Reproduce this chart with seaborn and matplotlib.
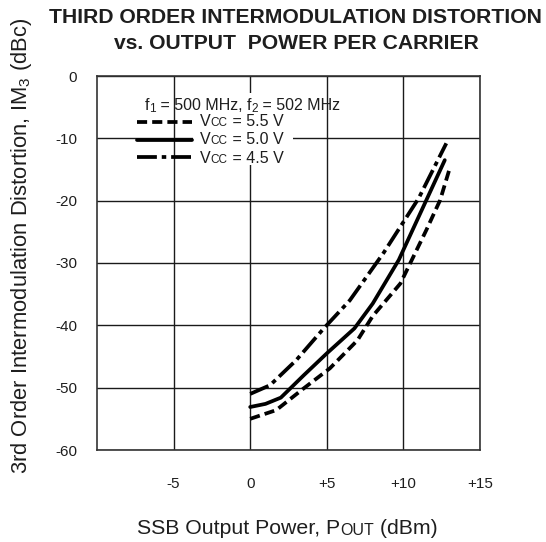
import numpy as np
import pandas as pd
import matplotlib
matplotlib.use("Agg")
import matplotlib.pyplot as plt
from matplotlib.patches import Rectangle
import seaborn as sns

# ---- data ----
x_55 = [0.0, 1.7, 3.5, 5.2, 7.0, 8.0, 9.8, 11.5, 12.4, 13.0]
y_55 = [-55.0, -53.6, -50.1, -46.9, -42.4, -38.5, -33.3, -24.7, -19.9, -15.0]
x_50 = [0.0, 1.0, 2.0, 3.5, 5.0, 6.8, 8.0, 9.7, 11.5, 12.7]
y_50 = [-53.1, -52.6, -51.6, -48.0, -44.5, -40.5, -36.5, -29.5, -19.9, -13.5]
x_45 = [0.0, 1.3, 3.0, 4.8, 6.5, 8.7, 11.0, 12.8]
y_45 = [-51.0, -49.6, -45.6, -40.5, -36.0, -28.4, -19.6, -10.8]
series_names = ["5.5 V", "5.0 V", "4.5 V"]
x_ticks = [-5, 0, 5, 10, 15]
x_ticklabels = ["-5", "0", "+5", "+10", "+15"]
y_ticks = [-60, -50, -40, -30, -20, -10, 0]
y_ticklabels = ["-60", "-50", "-40", "-30", "-20", "-10", "0"]

df = pd.concat([
    pd.DataFrame({"pout": x_55, "im3": y_55, "vcc": series_names[0]}),
    pd.DataFrame({"pout": x_50, "im3": y_50, "vcc": series_names[1]}),
    pd.DataFrame({"pout": x_45, "im3": y_45, "vcc": series_names[2]}),
])

sns.set_theme(style="white")
plt.rcParams["font.family"] = ["Liberation Sans", "DejaVu Sans"]
plt.rcParams["mathtext.fontset"] = "custom"
plt.rcParams["mathtext.rm"] = "Liberation Sans"
plt.rcParams["mathtext.it"] = "Liberation Sans:italic"
plt.rcParams["mathtext.bf"] = "Liberation Sans:bold"

TXT = "#1e1e1e"
LW = 2.7
dash_styles = {"5.5 V": (2.7, 1.35), "5.0 V": "", "4.5 V": (5.3, 1.3, 1.2, 1.3)}

fig = plt.figure(figsize=(5.46, 5.42), dpi=100)
ax = fig.add_axes([97 / 546, 1 - 450 / 542, 383 / 546, 374 / 542])

sns.lineplot(data=df, x="pout", y="im3", style="vcc", dashes=dash_styles,
             color="black", linewidth=LW, legend=False, ax=ax, zorder=3,
             estimator=None, sort=False)

ax.set_xlim(-10, 15)
ax.set_ylim(-60, 0)
ax.set_xticks(x_ticks)
ax.set_xticklabels(x_ticklabels)
ax.set_yticks(y_ticks)
ax.set_yticklabels(y_ticklabels)
ax.set_xlabel("")
ax.set_ylabel("")
ax.set_axisbelow(True)
ax.grid(True, color="#1a1a1a", linewidth=1.0)
ax.tick_params(axis="both", length=0, labelsize=11, colors=TXT)
ax.tick_params(axis="x", pad=19.5)
ax.tick_params(axis="y", pad=14.4)
for s in ax.spines.values():
    s.set_color("#333333")
    s.set_linewidth(1.2)

# white patch behind the legend text
ax.add_patch(Rectangle((0.251, 0.762), 0.261, 0.193, transform=ax.transAxes,
                       facecolor="white", edgecolor="none", zorder=1))


def chain(x, y, pieces, transform):
    """pieces: list of (text, fontsize, dy_points); first piece placed on its baseline"""
    first_txt, first_size, _ = pieces[0]
    first = ax.text(x, y, first_txt, fontsize=first_size, transform=transform,
                    ha="left", va="baseline", color=TXT, zorder=4, clip_on=False)
    prev = first
    arts = [first]
    for txt, size, dy in pieces[1:]:
        a = ax.annotate(txt, xy=(1, 0), xycoords=(prev, first),
                        xytext=(0, dy), textcoords="offset points",
                        fontsize=size, ha="left", va="bottom",
                        color=TXT, zorder=4, annotation_clip=False)
        arts.append(a)
        prev = a
    return arts


# legend
LS, SS = 11.5, 8.5
chain(0.1253, 0.909, [("f", LS, 0), ("1", SS, -1.5), (" = 500 MHz, f", LS, 0),
                      ("2", SS, -1.5), (" = 502 MHz", LS, 0)], ax.transAxes)
sample_y = {"5.5 V": 0.8778, "5.0 V": 0.8289, "4.5 V": 0.7826}
text_y = {"5.5 V": 0.8663, "5.0 V": 0.8182, "4.5 V": 0.7674}
for name in series_names:
    yy = sample_y[name]
    ax.plot([0.1037, 0.2478], [yy, yy], transform=ax.transAxes, color="black",
            linewidth=LW, dashes=dash_styles[name] if dash_styles[name] else (None, None),
            zorder=3)
    chain(0.2689, text_y[name], [("V", LS, 0), ("CC", SS, 0), (" = " + name, LS, 0)],
          ax.transAxes)

# titles
fig.text(295 / 546, 1 - 22.7 / 542, "THIRD ORDER INTERMODULATION DISTORTION",
         fontsize=15.2, fontweight="bold", ha="center", va="baseline", color=TXT)
fig.text(296 / 546, 1 - 49 / 542, "vs. OUTPUT  POWER PER CARRIER",
         fontsize=15.2, fontweight="bold", ha="center", va="baseline", color=TXT)

# y label
fig.text(22 / 546, 1 - 246 / 542, r"3rd Order Intermodulation Distortion, I$\mathregular{M_3}$ (dBc)",
         rotation=90, fontsize=15.8, ha="center", va="center", color=TXT)

# x label (centered after measuring)
xl = chain(0.5, 1 - 534 / 542, [("SSB Output Power, P", 15.3, 0), ("OUT", 11.5, 0),
                                (" (dBm)", 15.3, 0)], fig.transFigure)
fig.canvas.draw()
r = fig.canvas.get_renderer()
x0 = min(a.get_window_extent(r).x0 for a in xl)
x1 = max(a.get_window_extent(r).x1 for a in xl)
center_px = 287.0
shift = center_px - (x0 + x1) / 2
xl[0].set_x(0.5 + shift / fig.bbox.width)

fig.savefig("out.png", dpi=100, facecolor="white")
